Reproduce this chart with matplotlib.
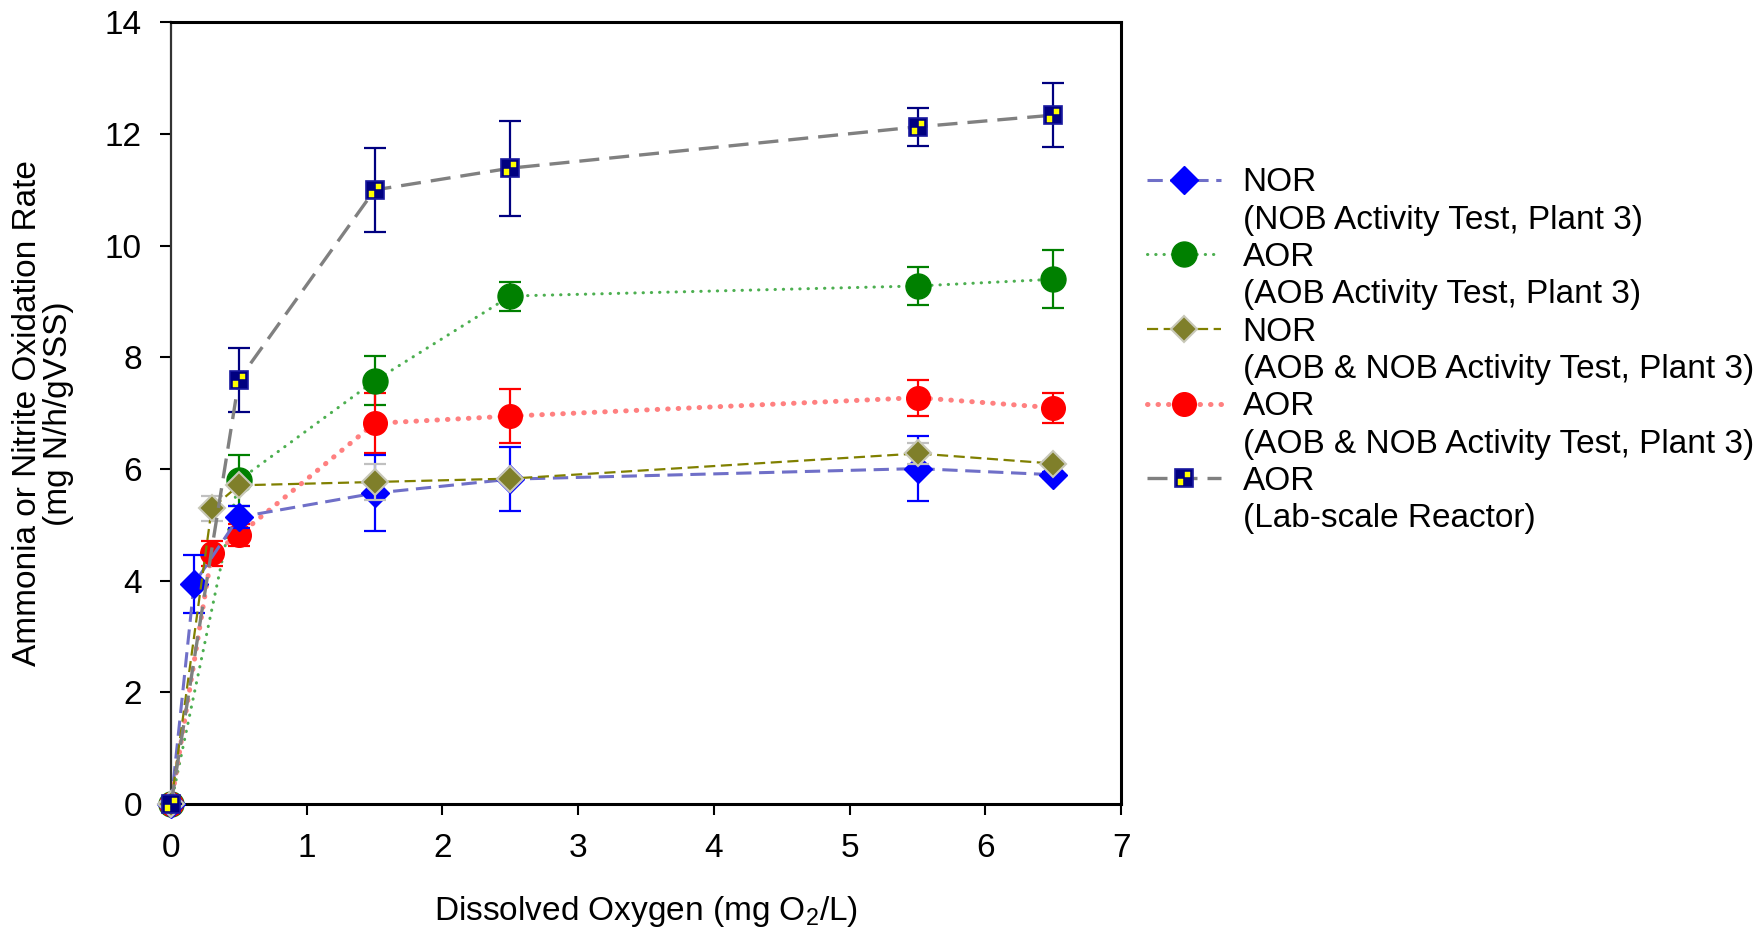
import matplotlib
matplotlib.use("Agg")
import matplotlib.pyplot as plt
from matplotlib.lines import Line2D
from matplotlib.path import Path
import numpy as np

plt.rcParams['font.family'] = ['Liberation Sans', 'DejaVu Sans']
plt.rcParams['mathtext.fontset'] = 'custom'
plt.rcParams['mathtext.rm'] = 'Liberation Sans'
plt.rcParams['mathtext.it'] = 'Liberation Sans:italic'

# ---- data ----
x_nor_nob = [0, 0.17, 0.5, 1.5, 2.5, 5.5, 6.5]
y_nor_nob = [0, 3.95, 5.14, 5.57, 5.82, 6.01, 5.90]
e_nor_nob = [0, 0.52, 0.20, 0.68, 0.57, 0.58, 0.05]

x_aor_aob = [0, 0.5, 1.5, 2.5, 5.5, 6.5]
y_aor_aob = [0, 5.80, 7.58, 9.10, 9.28, 9.40]
e_aor_aob = [0, 0.46, 0.44, 0.26, 0.34, 0.52]

x_nor_both = [0, 0.3, 0.5, 1.5, 2.5, 5.5, 6.5]
y_nor_both = [0, 5.30, 5.71, 5.77, 5.83, 6.28, 6.10]
e_nor_both = [0, 0.22, 0.05, 0.33, 0.05, 0.18, 0.05]

x_aor_both = [0, 0.3, 0.5, 1.5, 2.5, 5.5, 6.5]
y_aor_both = [0, 4.49, 4.82, 6.82, 6.95, 7.28, 7.10]
e_aor_both = [0, 0.22, 0.20, 0.54, 0.49, 0.32, 0.27]

x_lab = [0, 0.5, 1.5, 2.5, 5.5, 6.5]
y_lab = [0, 7.60, 11.00, 11.39, 12.13, 12.34]
e_lab = [0, 0.57, 0.75, 0.85, 0.34, 0.58]

legend_main = ['NOR', 'AOR', 'NOR', 'AOR', 'AOR']
legend_sub = ['(NOB Activity Test, Plant 3)', '(AOB Activity Test, Plant 3)',
              '(AOB & NOB Activity Test, Plant 3)', '(AOB & NOB Activity Test, Plant 3)',
              '(Lab-scale Reactor)']

xticks = list(range(0, 8))
yticks = list(range(0, 15, 2))

FS = 24

# ---- figure ----
fig = plt.figure(figsize=(17.65, 9.34), dpi=100)
ax = fig.add_axes([0.0969, 0.139, 0.5383, 0.837])

cap = 8
elw = 1.6
MS_C = 18
MS_D = 14
MS_S = 13

# green AOR (AOB test)
ax.errorbar(x_aor_aob, y_aor_aob, yerr=e_aor_aob, fmt='none', ecolor='#008000',
            elinewidth=elw, capsize=cap, capthick=elw, zorder=2)
l_green, = ax.plot(x_aor_aob, y_aor_aob, color='#4caf50', linestyle=(0, (0.1, 2.6)),
                   dash_capstyle='round', linewidth=2.2, marker='o', markersize=MS_C,
                   markerfacecolor='#008000', markeredgecolor='#008000', zorder=3,
                   clip_on=False)

# red AOR (both test)
ax.errorbar(x_aor_both, y_aor_both, yerr=e_aor_both, fmt='none', ecolor='#ff0000',
            elinewidth=elw, capsize=cap, capthick=elw, zorder=2)
l_red, = ax.plot(x_aor_both, y_aor_both, color='#ff8080', linestyle=(0, (0.1, 2.0)),
                 dash_capstyle='round', linewidth=3.6, marker='o', markersize=MS_C - 1,
                 markerfacecolor='#ff0000', markeredgecolor='#ff0000', zorder=3,
                 clip_on=False)

# blue NOR (NOB test)
ax.errorbar(x_nor_nob, y_nor_nob, yerr=e_nor_nob, fmt='none', ecolor='#0000ff',
            elinewidth=elw, capsize=cap, capthick=elw, zorder=4)
l_blue, = ax.plot(x_nor_nob, y_nor_nob, color='#6f6fc8', linestyle=(0, (5, 2.5)),
                  linewidth=2.2, marker='D', markersize=MS_D,
                  markerfacecolor='#0000ff', markeredgecolor='#0000ff', zorder=5,
                  clip_on=False)

# olive NOR (both test)
ax.errorbar(x_nor_both, y_nor_both, yerr=e_nor_both, fmt='none', ecolor='#c0c0c0',
            elinewidth=elw, capsize=cap, capthick=elw, zorder=6)
l_olive, = ax.plot(x_nor_both, y_nor_both, color='#808000', linestyle=(0, (5, 2.5)),
                   linewidth=1.6, marker='D', markersize=MS_D - 1,
                   markerfacecolor='#7f7f2a', markeredgecolor='#c8c8b8',
                   markeredgewidth=1.5, zorder=7, clip_on=False)

# gray AOR (lab-scale)
ax.errorbar(x_lab, y_lab, yerr=e_lab, fmt='none', ecolor='#000080',
            elinewidth=elw, capsize=cap, capthick=elw, zorder=8)
l_gray, = ax.plot(x_lab, y_lab, color='#808080', linestyle=(0, (6, 3)),
                  linewidth=2.4, marker='s', markersize=MS_S,
                  markerfacecolor='#000080', markeredgecolor='#1a1aa0',
                  markeredgewidth=1.2, zorder=9, clip_on=False)
# yellow inner squares marker
verts = []
codes = []
for (x0, y0) in [(0.07, 0.05), (-0.39, -0.41)]:
    s = 0.32
    verts += [(x0, y0), (x0 + s, y0), (x0 + s, y0 + s), (x0, y0 + s), (x0, y0)]
    codes += [Path.MOVETO, Path.LINETO, Path.LINETO, Path.LINETO, Path.CLOSEPOLY]
ypath = Path(verts, codes)
maxabs = np.max(np.abs(np.array(verts)))
ysize = MS_S * 2 * maxabs * 0.92
ax.plot(x_lab, y_lab, linestyle='none', marker=ypath, markersize=ysize,
        markerfacecolor='#ffff00', markeredgecolor='#ffff00', markeredgewidth=0.3,
        zorder=10, clip_on=False)
l_yel = Line2D([], [], linestyle='none', marker=ypath, markersize=ysize,
               markerfacecolor='#ffff00', markeredgecolor='#ffff00', markeredgewidth=0.3)

ax.set_xlim(0, 7)
ax.set_ylim(0, 14)
ax.set_xticks(xticks)
ax.set_yticks(yticks)
ax.tick_params(axis='both', direction='out', length=8, width=1.5, labelsize=FS, pad=13)
for name, sp in ax.spines.items():
    sp.set_linewidth(2.2)
    sp.set_color('black')
ax.spines['left'].set_linewidth(1.6)
ax.spines['left'].set_color('#333333')

ax.set_xlabel(r'Dissolved Oxygen (mg O$_2$/L)', fontsize=FS)
ax.xaxis.set_label_coords(0.5, -0.115)
ax.set_ylabel('Ammonia or Nitrite Oxidation Rate\n(mg N/h/gVSS)', fontsize=FS,
              linespacing=1.0)
ax.yaxis.set_label_coords(-0.102, 0.5)

# legend: main label rows with handles, sub-label rows with blank handles
blank = Line2D([], [], linestyle='none', marker=None)
main_handles = [l_blue, l_green, l_olive, l_red, (l_gray, l_yel)]
handles = []
labels = []
for h, m, s in zip(main_handles, legend_main, legend_sub):
    handles += [h, blank]
    labels += [m, s]
fig.legend(handles, labels, loc='upper left', bbox_to_anchor=(0.650, 0.821),
           frameon=False, fontsize=FS, labelspacing=0.19, handlelength=2.2,
           handletextpad=0.66, borderaxespad=0, borderpad=0)

fig.savefig('out.png', dpi=100)
